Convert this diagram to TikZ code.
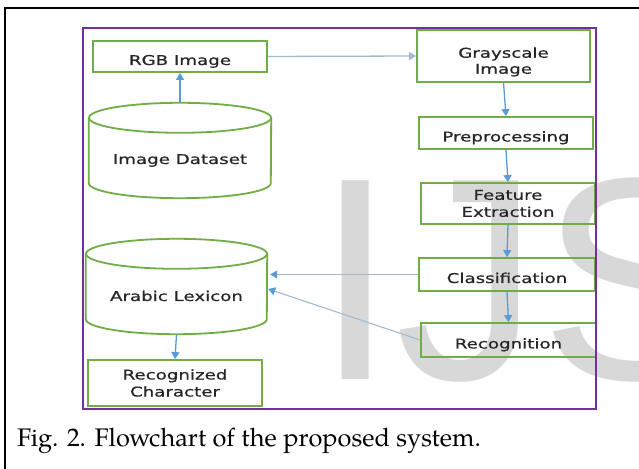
\documentclass[tikz,border=0pt]{standalone}
\usepackage{fontspec}
\usetikzlibrary{arrows.meta,calc}
\newfontfamily\boxfont[FakeStretch=1.35,FakeBold=0.6]{DejaVu Sans}
\newfontfamily\markfont{Liberation Sans}
\newfontfamily\capfont{TeX Gyre Pagella}
\definecolor{boxgreen}{RGB}{112,173,71}
\definecolor{framepurple}{RGB}{112,48,160}
\definecolor{flowblue}{RGB}{91,155,213}
\definecolor{linkblue}{RGB}{160,186,212}
\definecolor{inkgray}{RGB}{38,38,38}
\definecolor{markgray}{RGB}{216,216,216}

% cylinder outline drawn around a (borderless) node: #1 node name, #2 x radius
\newcommand\cylbody[2]{%
  \draw[cylline] ($(#1.north)+(0,-15)$) ellipse[x radius=#2, y radius=15];
  \draw[cylline] ($(#1.north west)+(0,-15)$) -- ($(#1.south west)+(0,15)$)
    arc[start angle=180, end angle=360, x radius=#2, y radius=15]
    -- ($(#1.north east)+(0,-15)$);}

\begin{document}
\begin{tikzpicture}[x=1pt,y=1pt,
  stepbox/.style={draw=boxgreen, line width=1.8pt, inner sep=0pt,
    font=\boxfont\fontsize{13.5}{17}\selectfont, text=inkgray, align=center},
  oneline/.style={text height=17pt, text depth=0pt},
  cylnode/.style={draw=none, inner sep=0pt},
  cylline/.style={draw=boxgreen, line width=1.8pt},
  cyltext/.style={anchor=base, inner sep=0pt, text=inkgray,
    font=\boxfont\fontsize{13.5}{17}\selectfont},
  flow/.style={draw=flowblue, line width=1.3pt, -{Triangle[width=8pt,length=7pt]}},
  link/.style={draw=linkblue, line width=1.1pt,
    -{Triangle[width=8pt,length=7pt,color=flowblue]}}]

\useasboundingbox (0,0) rectangle (639,468);
\fill[white] (0,0) rectangle (639,468);

% watermark
\node[anchor=base west, inner sep=0pt, text=markgray,
  font=\markfont\fontsize{289}{289}\selectfont] (mark) at (315,88) {IJS};

% process boxes
\node[stepbox, oneline, minimum width=174, minimum height=31] (rgb) at (180,411.5) {RGB Image};
\node[stepbox, minimum width=173, minimum height=52] (gray) at (503.5,412) {};
\node[inner sep=0pt, text=inkgray, align=center,
  font=\boxfont\fontsize{13.5}{16}\selectfont] (grayt) at (503.5,406) {Grayscale\\Image};
\node[stepbox, oneline, minimum width=174, minimum height=32] (prep) at (506,335) {Preprocessing};
\node[stepbox, minimum width=174, minimum height=41] (feat) at (508,264.5) {Feature\\Extraction};
\node[stepbox, oneline, minimum width=176, minimum height=33] (cls) at (507,193.5) {Classification};
\node[stepbox, oneline, minimum width=175, minimum height=34] (rec) at (508.5,128) {Recognition};
\node[stepbox, minimum width=174, minimum height=46] (rc) at (175,85) {Recognized\\Character};

% data stores
\node[cylnode, minimum width=182, minimum height=95] (ds) at (180,317.5) {};
\cylbody{ds}{91}
\node[cyltext] (dst) at (180,304) {Image Dataset};
\node[cylnode, minimum width=181, minimum height=95] (lex) at (176.5,181.5) {};
\cylbody{lex}{90.5}
\node[cyltext] (lext) at (176.5,167) {Arabic Lexicon};

% connectors
\draw[flow] (ds.north) -- (rgb.south);
\draw[flow, draw=linkblue] (rgb.east) -- (gray.west);
\draw[flow] (gray.south) -- (prep.north);
\draw[flow] (prep.south) -- (feat.north);
\draw[flow] (feat.south) -- (cls.north);
\draw[flow] (cls.south) -- (rec.north);
\draw[link, shorten >=3pt] (cls.west) -- (cls.west -| lex.east);
\draw[link] (rec.west) -- ($(lex.east)+(1,-2.5)$);
\draw[flow] (lex.south) -- (rc.north);

% frames
\draw[framepurple, line width=1.8pt] (83,59) rectangle (596,440);
\draw[black, line width=2pt] (5,-2) -- (5,460) -- (641,460);

% caption
\node[anchor=base west, inner sep=0pt, text=black,
  font=\capfont\fontsize{25.4}{30}\selectfont] (cap) at (17,21)
  {Fig. 2. Flowchart of the proposed system.};
\end{tikzpicture}
\end{document}
